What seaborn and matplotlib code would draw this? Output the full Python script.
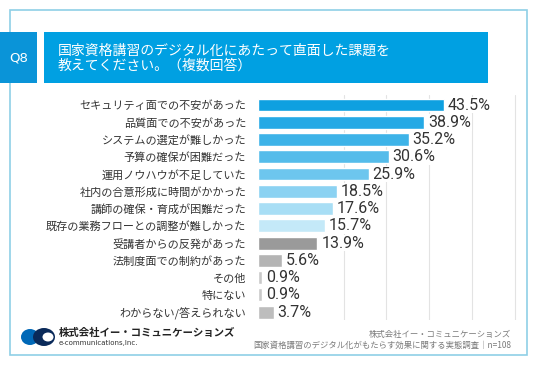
import matplotlib
matplotlib.use('Agg')
import matplotlib.pyplot as plt
import seaborn as sns
from matplotlib.patches import Rectangle, Ellipse

# data
labels = ['セキュリティ面での不安があった', '品質面での不安があった', 'システムの選定が難しかった',
          '予算の確保が困難だった', '運用ノウハウが不足していた', '社内の合意形成に時間がかかった',
          '講師の確保・育成が困難だった', '既存の業務フローとの調整が難しかった', '受講者からの反発があった',
          '法制度面での制約があった', 'その他', '特にない', 'わからない/答えられない']
values = [43.5, 38.9, 35.2, 30.6, 25.9, 18.5, 17.6, 15.7, 13.9, 5.6, 0.9, 0.9, 3.7]
colors = ['#0ea0e0', '#25a9e5', '#3db3e8', '#55bcea', '#6dc6ee', '#8bd2f2', '#a8def5', '#c4e9f8',
          '#9a9a9a', '#b4b4b4', '#c9c9c9', '#c9c9c9', '#bdbdbd']
title_lines = '国家資格講習のデジタル化にあたって直面した課題を\n教えてください。（複数回答）'
source_lines = '株式会社イー・コミュニケーションズ\n国家資格講習のデジタル化がもたらす効果に関する実態調査｜n=108'

W, H = 536, 371
sns.set_theme(style='white')
plt.rcParams['font.family'] = ['Noto Sans CJK JP', 'DejaVu Sans']

fig = plt.figure(figsize=(W / 100, H / 100), dpi=100)
fig.patch.set_facecolor('white')


def fx(x):
    return x / W


def fy(y):
    return 1 - y / H


def box(x0, y0, x1, y1, **kw):
    fig.patches.append(Rectangle((fx(x0), fy(y1)), fx(x1 - x0), (y1 - y0) / H,
                                 transform=fig.transFigure, **kw))


# outer frame + header boxes
box(10, 10, 527, 355, facecolor='none', edgecolor='#8fcfe6', linewidth=1.2)
box(0, 32, 37, 83, facecolor='#0a94d8', edgecolor='none')
box(44, 32, 488, 83, facecolor='#00a0e2', edgecolor='none')
fig.text(fx(19), fy(58), 'Q8', color='white', fontsize=9.5, ha='center', va='center',
         family=['DejaVu Sans'])
fig.text(fx(58), fy(58), title_lines, color='white', fontsize=10, ha='left', va='center',
         linespacing=1.15)

# chart
ax = fig.add_axes([fx(258), fy(320), 61 * 4.276 / W, 225 / H])
sns.barplot(x=values, y=labels, hue=labels, palette=colors, legend=False,
            orient='h', width=0.75, ax=ax, saturation=1)
ax.set_xlim(0, 61)
ax.set_ylim(12.46, -0.58)
ax.set_xticks([20, 30, 40, 50, 60])
ax.set_xticklabels([])
ax.xaxis.grid(True, color='#e3e3e3', linewidth=0.8)
ax.set_axisbelow(True)
ax.tick_params(axis='y', length=0, pad=8.5, labelsize=8, labelcolor='#333333')
ax.tick_params(axis='x', length=0)
ax.set_xlabel('')
ax.set_ylabel('')
for s in ax.spines.values():
    s.set_visible(False)

for i, v in enumerate(values):
    ax.text(v + 0.9, i, f'{v}%', va='center', ha='left', fontsize=11.5, color='#333333',
            family=['Roboto'],
            bbox=dict(facecolor='white', edgecolor='none', pad=0.6))

# footer: logo + company + source
fig.patches.append(Ellipse((fx(30), fy(337)), fx(18), 16 / H, transform=fig.transFigure,
                           facecolor='#0068b7', edgecolor='none'))
fig.patches.append(Ellipse((fx(44), fy(337)), fx(22), 18 / H, transform=fig.transFigure,
                           facecolor='#0a2a5a', edgecolor='none'))
fig.patches.append(Ellipse((fx(48), fy(337)), fx(11), 9 / H, transform=fig.transFigure,
                           facecolor='white', edgecolor='none'))
fig.text(fx(59), fy(333), '株式会社イー・コミュニケーションズ', fontsize=7.5, fontweight='bold',
         color='#222222', ha='left', va='center')
fig.text(fx(59), fy(343), 'e-communications,Inc.', fontsize=5, color='#333333',
         ha='left', va='center', family=['DejaVu Sans'])
fig.text(fx(511), fy(340), source_lines, fontsize=6, color='#7a7a7a', ha='right',
         va='center', linespacing=1.25, multialignment='right')

fig.savefig('out.png', dpi=100, facecolor='white')
